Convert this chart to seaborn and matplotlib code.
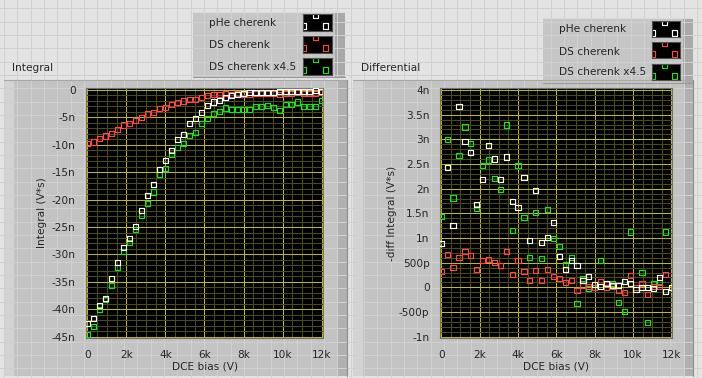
import numpy as np
import pandas as pd
import matplotlib
matplotlib.use("Agg")
from matplotlib import pyplot as plt
from matplotlib.patches import Rectangle
from matplotlib.ticker import FixedLocator, FixedFormatter, MultipleLocator
import seaborn as sb

# DCE bias steps (V)
bias = [0, 308, 615, 923, 1231, 1538, 1846, 2154, 2462, 2769,
        3077, 3385, 3692, 4000, 4308, 4615, 4923, 5231, 5538, 5846,
        6154, 6462, 6769, 7077, 7385, 7692, 8000, 8308, 8615, 8923,
        9231, 9538, 9846, 10154, 10462, 10769, 11077, 11385, 11692, 12000]

# integral (nV*s)
phe_int = [-42.6, -41.7, -39.3, -38.0, -34.4, -31.4, -28.7, -27.1, -24.9, -22.0,
           -19.3, -17.2, -14.5, -12.8, -11.1, -9.0, -8.1, -6.1, -5.2, -4.1,
           -2.8, -2.2, -1.9, -1.3, -1.0, -0.8, -0.6, -0.4, -0.4, -0.4,
           -0.4, -0.4, -0.25, -0.25, -0.25, -0.25, -0.25, -0.25, -0.1, -0.25]
ds_int = [-9.73, -9.49, -8.82, -8.39, -7.91, -7.18, -6.39, -6.08, -5.53, -4.99,
          -4.38, -4.08, -3.41, -3.16, -2.62, -2.31, -2.0, -1.7, -1.7, -1.34,
          -0.97, -0.79, -0.79, -0.61, -0.79, -0.61, -0.78, -0.78, -0.67, -0.67,
          -0.62, -0.71, -0.82, -0.58, -0.58, -0.49, -0.67, -0.67, -0.67, -0.42]
ds45_int = [-44.6, -43.1, -40.0, -38.2, -35.6, -32.4, -29.5, -27.8, -25.5, -22.9,
            -20.7, -18.6, -15.4, -14.3, -11.7, -10.5, -9.7, -8.3, -7.7, -6.1,
            -5.2, -4.3, -3.9, -3.3, -3.5, -3.5, -3.5, -3.5, -3.0, -3.0,
            -2.8, -3.2, -3.7, -2.6, -2.6, -2.2, -3.0, -3.0, -3.0, -1.9]

# -diff integral (nV*s)
phe_diff = [0.89, 2.43, 1.26, 3.67, 2.96, 2.74, 1.68, 2.19, 2.88, 2.60,
            2.19, 2.64, 1.74, 1.62, 2.23, 0.95, 1.97, 0.91, 1.01, 1.32,
            0.63, 0.37, 0.55, 0.45, 0.14, 0.22, 0.06, 0.02, 0.08, 0.04,
            0.04, 0.12, 0.08, -0.04, 0.0, 0.0, -0.02, 0.20, -0.08, 0.0]
ds_diff = [0.32, 0.67, 0.41, 0.61, 0.73, 0.65, 0.37, 0.55, 0.57, 0.51,
           0.45, 0.73, 0.26, 0.55, 0.32, 0.14, 0.34, 0.14, 0.37, 0.22,
           0.18, 0.10, 0.14, -0.06, 0.04, 0.02, 0.0, 0.12, 0.0, 0.02,
           -0.06, -0.10, 0.24, 0.0, 0.08, -0.14, 0.02, 0.02, 0.26, 0.0]
ds45_diff = [1.44, 3.0, 1.81, 2.68, 3.25, 2.92, 1.60, 2.47, 2.58, 2.21,
             1.99, 3.29, 1.15, 2.47, 1.42, 0.61, 1.52, 0.59, 1.58, 0.99,
             0.83, 0.47, 0.61, -0.32, 0.18, -0.02, 0.0, 0.55, 0.0, 0.08,
             -0.30, -0.49, 1.12, -0.04, 0.30, -0.71, 0.08, 0.10, 1.12, 0.0]

traces = ["pHe cherenk", "DS cherenk", "DS cherenk x4.5"]
colors = {"pHe cherenk": "#ffffff", "DS cherenk": "#ff4646", "DS cherenk x4.5": "#14e614"}

int_ticks = [0, -5, -10, -15, -20, -25, -30, -35, -40, -45]
int_labels = ["0", "-5n", "-10n", "-15n", "-20n", "-25n", "-30n", "-35n", "-40n", "-45n"]
diff_ticks = [4, 3.5, 3, 2.5, 2, 1.5, 1, 0.5, 0, -0.5, -1]
diff_labels = ["4n", "3.5n", "3n", "2.5n", "2n", "1.5n", "1n", "500p", "0", "-500p", "-1n"]
x_ticks = [0, 2000, 4000, 6000, 8000, 10000, 12000]
x_labels = ["0", "2k", "4k", "6k", "8k", "10k", "12k"]


def long_table(series):
    # green first, white last so white sits on top
    parts = [pd.DataFrame({"bias": bias, "value": v, "trace": n}) for n, v in series]
    return pd.concat(parts, ignore_index=True)


int_df = long_table([("DS cherenk x4.5", ds45_int), ("DS cherenk", ds_int), ("pHe cherenk", phe_int)])
diff_df = long_table([("DS cherenk x4.5", ds45_diff), ("DS cherenk", ds_diff), ("pHe cherenk", phe_diff)])

sb.set_style("white")
plt.rcParams['font.family'] = ['DejaVu Sans']
plt.rcParams['font.size'] = 7.6

W, H = 702, 378
fig = plt.figure(figsize=(W / 100, H / 100), dpi=100)

# front panel background in pixel coords
bg = fig.add_axes([0, 0, 1, 1])
bg.set_xlim(0, W)
bg.set_ylim(H, 0)
bg.axis('off')
bg.add_patch(Rectangle((0, 0), W, H, fc='#e3e3e3', ec='none'))
for gx in np.arange(4, W, 13.33):
    bg.plot([gx, gx], [0, H], color='#d0d0d0', lw=0.72)
for gy in np.arange(8.3, H, 13.33):
    bg.plot([0, W], [gy, gy], color='#d0d0d0', lw=0.72)


def frame(x0, x1, y0, y1):
    bg.add_patch(Rectangle((x0, y0), x1 - x0, y1 - y0, fc='#c3c3c3', ec='none'))
    bg.add_patch(Rectangle((x0, y0), 10, y1 - y0, fc='#d3d3d3', ec='none'))
    bg.add_patch(Rectangle((x1 - 9, y0), 9, y1 - y0, fc='#b0b0b0', ec='none'))
    bg.plot([x0, x1], [y0, y0], color='#a8a8a8', lw=0.8)
    bg.plot([x1, x1], [y0, y1], color='#8c8c8c', lw=0.8)


frame(4, 347, 80, 376)
frame(353, 693, 80, 376)
bg.text(12, 68, "Integral", ha='left', va='center')
bg.text(361, 68, "Differential", ha='left', va='center')


def legend_box(x0, y0, x1, y1, tx, rows, sw_x, sw_rows, sw_w, sw_h):
    bg.add_patch(Rectangle((x0, y0), x1 - x0, y1 - y0, fc='#c6c6c6', ec='none'))
    bg.add_patch(Rectangle((x1 - 10, y0), 10, y1 - y0, fc='#a9a9a9', ec='none'))
    bg.plot([x0, x1], [y0, y0], color='#dadada', lw=0.8)
    bg.plot([x0, x1], [y1, y1], color='#9a9a9a', lw=0.8)
    for name, ty, sy in zip(traces, rows, sw_rows):
        bg.text(tx, ty, name, ha='left', va='center')
        sw = fig.add_axes([sw_x / W, 1 - (sy + sw_h) / H, sw_w / W, sw_h / H])
        sw.set_facecolor('black')
        sw.set_xlim(0, sw_w)
        sw.set_ylim(sw_h, 0)
        sw.set_xticks([])
        sw.set_yticks([])
        for s in sw.spines.values():
            s.set_color('#505050')
            s.set_linewidth(0.8)
        sw.scatter([0.6, 12.2, 22.2], [12, 1.8, 12], marker='s', s=14,
                   facecolors='none', edgecolors=colors[name], linewidths=0.85)


legend_box(193, 12, 345, 77, 209, [23, 45, 67], 303, [14, 36, 58], 29, 17)
legend_box(543, 18, 693, 83, 559, [29, 52, 72], 652, [21, 42, 64], 28, 16)


def chart(rect, data, xlim, ylim, yticks, ylabels, ylabel, yminor, ylab_x):
    ax = fig.add_axes([rect[0] / W, 1 - rect[3] / H, (rect[2] - rect[0]) / W, (rect[3] - rect[1]) / H])
    ax.set_facecolor('black')
    ax.set_axisbelow(True)
    sb.scatterplot(data=data, x="bias", y="value", hue="trace", palette=colors,
                   marker='s', s=14, linewidth=0.85, legend=False, ax=ax, zorder=3)
    pts = ax.collections[-1]
    pts.set_edgecolors(pts.get_facecolors())
    pts.set_facecolors('none')
    ax.set_xlim(*xlim)
    ax.set_ylim(*ylim)
    ax.xaxis.set_major_locator(FixedLocator(x_ticks))
    ax.xaxis.set_major_formatter(FixedFormatter(x_labels))
    ax.yaxis.set_major_locator(FixedLocator(yticks))
    ax.yaxis.set_major_formatter(FixedFormatter(ylabels))
    ax.xaxis.set_minor_locator(MultipleLocator(500))
    ax.yaxis.set_minor_locator(MultipleLocator(yminor))
    ax.grid(which='minor', color='#4c4c10', lw=0.72)
    ax.grid(which='major', color='#bcbc00', lw=0.72)
    ax.tick_params(which='major', direction='out', length=6, width=0.8, color='black',
                   labelsize=7.6, pad=1.5)
    ax.tick_params(axis='x', which='major', pad=2.5)
    ax.tick_params(which='minor', length=0)
    for s in ax.spines.values():
        s.set_color('#707070')
        s.set_linewidth(0.8)
    ax.set_xlabel("DCE bias (V)", va='center')
    ax.xaxis.set_label_coords(0.5, -0.115)
    ax.set_ylabel(ylabel, va='center')
    ax.yaxis.set_label_coords(ylab_x, 0.5)
    return ax


chart((86, 88, 323, 338), int_df, (-61, 12067), (-45.24, 0.36),
      int_ticks, int_labels, "Integral (V*s)", 1, -0.186)
chart((440, 88, 672, 338), diff_df, (-68, 12031), (-1.026, 4.04),
      diff_ticks, diff_labels, "-diff Integral (V*s)", 0.1, -0.207)

fig.savefig("out.png", dpi=100)
